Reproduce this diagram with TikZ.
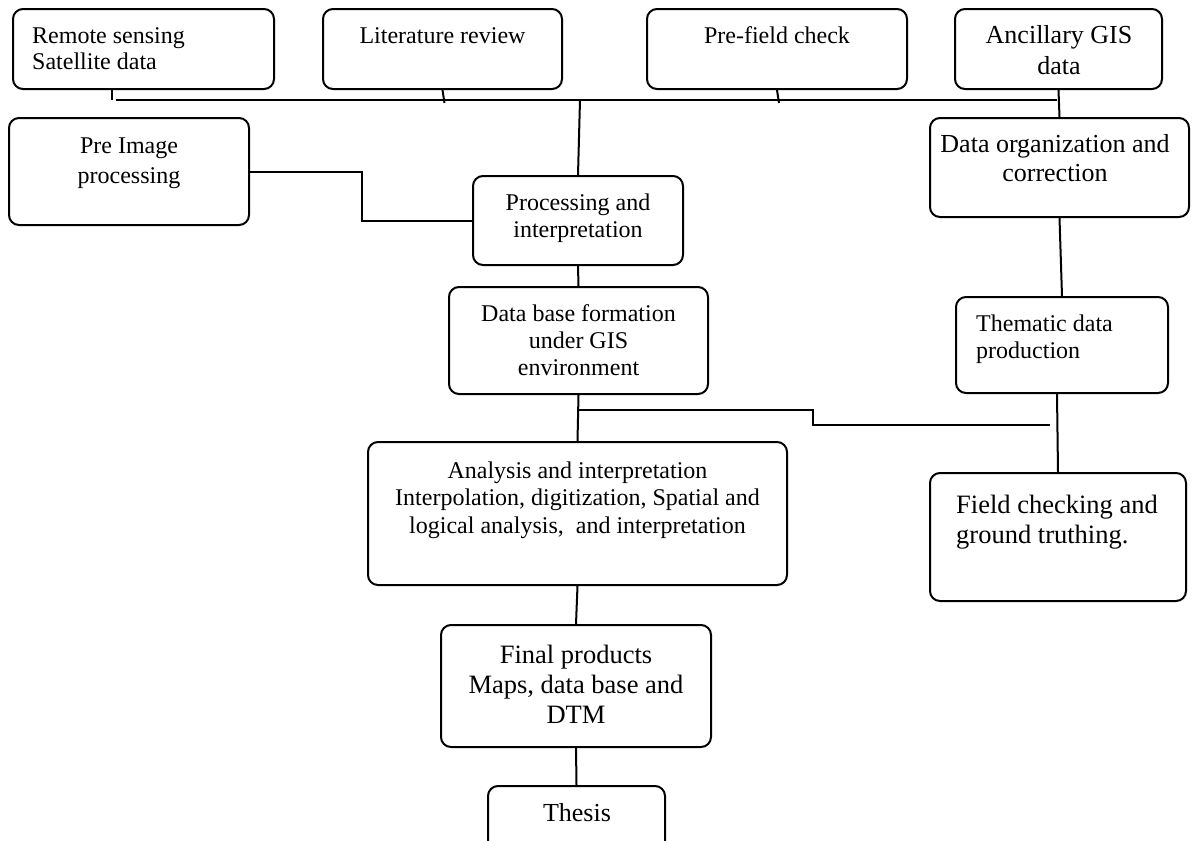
\documentclass[tikz,border=0pt]{standalone}
\usepackage{fontspec}
\setmainfont{Liberation Serif}
\begin{document}
\begin{tikzpicture}[x=1pt,y=-1pt,
  box/.style={draw=black,line width=2pt,rounded corners=10pt,inner sep=0pt},
  txt/.style={inner sep=0pt,anchor=base},
  txtl/.style={inner sep=0pt,anchor=base west},
  conn/.style={draw=black,line width=2pt}]
\useasboundingbox (0,0) rectangle (1192,841);
\fill[white] (0,0) rectangle (1192,841);
\clip (0,0) rectangle (1192,841);
% boxes
\node[box,minimum width=261,minimum height=80] (remote) at (143.5,49) {};
\node[box,minimum width=239,minimum height=80] (lit) at (442.5,49) {};
\node[box,minimum width=260,minimum height=80] (pref) at (777,49) {};
\node[box,minimum width=207,minimum height=80] (anc) at (1058.5,49) {};
\node[box,minimum width=240,minimum height=107] (pre) at (129,171.5) {};
\node[box,minimum width=210,minimum height=89] (proc) at (578,220.5) {};
\node[box,minimum width=259,minimum height=99] (dorg) at (1059.5,167.5) {};
\node[box,minimum width=259,minimum height=107] (db) at (578.5,340.5) {};
\node[box,minimum width=212,minimum height=96] (them) at (1062,345) {};
\node[box,minimum width=419,minimum height=143] (ana) at (577.5,513.5) {};
\node[box,minimum width=256,minimum height=128] (field) at (1058,537) {};
\node[box,minimum width=270,minimum height=122] (final) at (576,686) {};
\node[box,minimum width=177,minimum height=84] (thesis) at (576.5,828) {};
% texts
\node[txtl] (t-remote) at (32,43) {\fontsize{24}{26}\selectfont\begin{tabular}[t]{@{}l@{}}Remote sensing\\Satellite data\end{tabular}};
\node[txt] (t-lit) at (442.5,43) {\fontsize{24}{27}\selectfont Literature review};
\node[txt] (t-pref) at (777,43) {\fontsize{24}{27}\selectfont Pre-field check};
\node[txt] (t-anc) at (1059,43) {\fontsize{26}{31}\selectfont\begin{tabular}[t]{@{}c@{}}Ancillary GIS\\data\end{tabular}};
\node[txt] (t-pre) at (129,153) {\fontsize{24}{30}\selectfont\begin{tabular}[t]{@{}c@{}}Pre Image\\processing\end{tabular}};
\node[txt] (t-proc) at (578,210) {\fontsize{24}{27}\selectfont\begin{tabular}[t]{@{}c@{}}Processing and\\interpretation\end{tabular}};
\node[txt] (t-dorg) at (1055,152) {\fontsize{26}{29}\selectfont\begin{tabular}[t]{@{}c@{}}Data organization and\\correction\end{tabular}};
\node[txt] (t-db) at (578.5,321) {\fontsize{24}{27}\selectfont\begin{tabular}[t]{@{}c@{}}Data base formation\\under GIS\\environment\end{tabular}};
\node[txtl] (t-them) at (976,331) {\fontsize{24}{27}\selectfont\begin{tabular}[t]{@{}l@{}}Thematic data\\production\end{tabular}};
\node[txt] (t-ana) at (577.5,478) {\fontsize{24}{27.5}\selectfont\begin{tabular}[t]{@{}c@{}}Analysis and interpretation\\Interpolation, digitization, Spatial and\\logical analysis,~ and interpretation\end{tabular}};
\node[txtl] (t-field) at (956,513) {\fontsize{26.5}{30}\selectfont\begin{tabular}[t]{@{}l@{}}Field checking and\\ground truthing.\end{tabular}};
\node[txt] (t-final) at (576,663) {\fontsize{26.5}{30}\selectfont\begin{tabular}[t]{@{}c@{}}Final products\\Maps, data base and\\DTM\end{tabular}};
\node[txt] (t-thesis) at (577,821) {\fontsize{26}{30}\selectfont Thesis};
% bus coordinates
\coordinate (rtick) at (112,100);
\coordinate (busL) at (116,100);
\coordinate (busR) at (1057,100);
\coordinate (busP) at (580,100);
\coordinate (j2) at (578,410);
\coordinate (j2e) at (1050,425);
% connectors
\draw[conn] (remote.south -| rtick) -- (rtick);
\draw[conn] (busL) -- (busR);
\draw[conn] (lit.south) -- ++(2,13);
\draw[conn] (pref.south) -- ++(2,13);
\draw[conn] (anc.south) -- (dorg.north);
\draw[conn] (busP) -- (proc.north);
\draw[conn] (pre.east) -- ++(112,0) |- (proc.west);
\draw[conn] (proc.south) -- (db.north);
\draw[conn] (db.south) -- (ana.north);
\draw[conn] (j2) -- ++(235,0) |- (j2e);
\draw[conn] (dorg.south) -- (them.north);
\draw[conn] ([xshift=-5pt]them.south) -- (field.north);
\draw[conn] (ana.south) -- (final.north);
\draw[conn] (final.south) -- (thesis.north);
\end{tikzpicture}
\end{document}
